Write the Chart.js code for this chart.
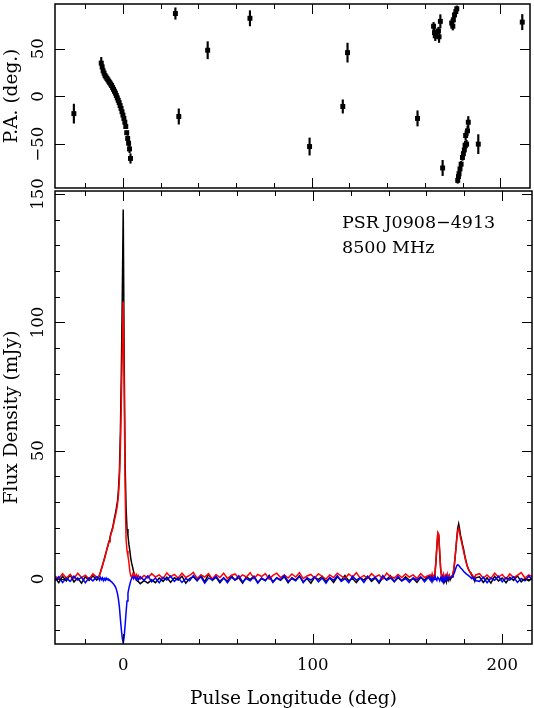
<!DOCTYPE html>
<html>
<head>
<meta charset="utf-8">
<script src="https://cdn.jsdelivr.net/npm/chart.js@4.4.1/dist/chart.umd.min.js"></script>
<style>
  html, body { margin: 0; padding: 0; background: #fff; }
  #wrap { position: relative; width: 534px; height: 708px; }
  #wrap canvas { position: absolute; left: 0; }
  #pa-chart { top: 0; }
  #flux-chart { top: 171px; }
</style>
</head>
<body>
<div id="wrap">
  <canvas id="pa-chart" width="534" height="192"></canvas>
  <canvas id="flux-chart" width="534" height="537"></canvas>
</div>
<script>
// pulse longitude of each profile bin (deg)
const lon = [
  -36, -34, -32, -30, -28, -26, -24, -22, -20, -18, -16, -14,
  -13, -12.5, -12, -11.5, -11, -10.5, -10, -9.5, -9, -8.5, -8, -7.5, -7, -6.5, -6, -5.5, -5, -4.5, -4, -3.5, -3, -2.5, -2, -1.5, -1, -0.5,
  0, 0.5, 1, 1.5, 2, 2.5, 3, 3.5, 4, 4.5, 5, 5.5, 6, 6.5, 7, 7.5, 8,
  9, 11, 13, 15, 17, 19, 21, 23, 25, 27, 29, 31, 33, 35, 37, 39, 41, 43, 45, 47,
  49, 51, 53, 55, 57, 59, 61, 63, 65, 67, 69, 71, 73, 75, 77, 79, 81, 83, 85, 87,
  89, 91, 93, 95, 97, 99, 101, 103, 105, 107, 109, 111, 113, 115, 117, 119, 121, 123, 125, 127,
  129, 131, 133, 135, 137, 139, 141, 143, 145, 147, 149, 151, 153, 155, 157, 159, 161,
  162, 162.5, 163, 163.5, 164, 164.5, 165, 165.5, 166, 166.5, 167, 167.5, 168, 168.5, 169, 169.5, 170, 170.5, 171, 171.5,
  172, 172.5, 173, 173.5, 174, 174.5, 175, 175.5, 176, 176.5, 177, 177.5, 178, 178.5, 179, 179.5, 180, 180.5, 181, 181.5,
  182, 182.5, 183, 183.5, 184, 184.5, 185, 185.5, 186,
  188, 190, 192, 194, 196, 198, 200, 202, 204, 206, 208, 210, 212, 214, 216
];

// total intensity (mJy)
const totalI = [
  0.5, -1.4, 1.1, -0.7, 1.6, -1.1, 0.4, -1.6, 0.9, -0.5, 1.3, -0.4,
  0.6, 1.5, 2.8, 4.0, 5.3, 6.5, 7.8, 9.2, 10.6, 12.0, 13.3, 14.8, 16.3, 17.7, 19.0, 20.3, 22.3, 24.3, 26.0, 28.2, 30.5, 35.0, 42.0, 57.0, 80.0, 110.0,
  144.0, 86.0, 45.0, 28.0, 19.5, 17.0, 13.5, 11.0, 8.0, 6.0, 4.5, 2.8, 1.5, 0.5, -0.3, -0.8, -1.0,
  -1.8, -0.6, -1.6, -0.3, -1.4, 0.4, -0.9, 0.7, -1.3, 0.5, -0.4, 1.1, -1.6, 0.2, 0.9, -0.7, 1.4, -1.1, 1.8, -0.5,
  0.7, -1.4, 0.4, -0.9, 1.3, -0.4, 0.5, -1.6, 0.9, -0.2, 1.1, -1.3, 0.2, -0.7, 1.4, -1.1, 0.4, -0.5, 0.9, -1.4,
  0.5, -0.4, 1.3, -1.1, 0.2, -1.6, 0.7, -0.2, 1.1, -0.9, 0.4, -1.3, 0.9, -0.5, 1.4, -0.7, 0.2, -1.4, 0.5, -0.4,
  1.1, -0.9, 0.4, -1.6, 0.7, -0.2, 1.3, -1.1, 0.5, -0.7, 0.9, -0.5, 0.2, -1.3, 0.7, -0.4, 1.1,
  0.7, -0.6, 1.0, -0.4, 0.8, 2.0, 6.5, 12.5, 17.5, 17.0, 10.0, 4.0, 1.0, -0.6, 0.8, -0.9, 0.5, -1.1, 0.9, -0.4,
  1.1, -0.4, 0.4, 0.9, 1.8, 4.0, 7.5, 11.5, 16.0, 19.8, 21.5, 19.5, 17.0, 15.5, 13.5, 12.0, 10.0, 8.2, 6.6, 5.3,
  4.2, 3.4, 2.7, 2.0, 1.5, 0.9, 0.4, -0.8, 0.5,
  0.9, -1.3, 0.5, -1.6, 1.1, -0.7, 0.4, -1.4, 0.7, -0.5, 1.3, -1.1, 0.2, -0.7, 0.5
];

// linear polarisation (mJy)
const linearL = [
  1.2, 0.1, 2.1, 0.4, 1.8, 0.2, 2.3, 0.6, 1.5, 0.0, 2.0, 0.8,
  1.0, 1.6, 2.6, 3.8, 5.0, 6.3, 7.6, 9.0, 10.4, 11.8, 13.1, 14.5, 16.0, 17.3, 18.6, 19.8, 21.6, 23.4, 25.0, 27.0, 29.3, 33.0, 39.0, 51.0, 69.0, 89.0,
  108.0, 74.0, 36.0, 15.5, 11.0, 9.0, 6.5, 3.0, 1.2, 0.7, 1.8, 0.4, 1.9, 0.3, 1.6, 0.6, 1.4,
  0.0, 1.4, 0.4, 2.1, 0.8, 1.6, 0.2, 2.4, 0.9, 1.8, 0.4, 2.3, 0.6, 1.4, 2.6, 0.2, 1.6, 0.8, 2.1, 0.0,
  1.8, 0.6, 2.3, 0.2, 1.4, 2.0, 0.4, 1.6, 0.8, 2.5, 0.2, 1.8, 1.0, 2.1, 0.0, 1.4, 2.3, 0.6, 1.6, 0.4,
  2.0, 0.8, 2.5, 0.2, 1.2, 1.8, 0.4, 2.1, 1.0, 0.0, 1.6, 0.6, 2.3, 1.2, 0.2, 2.0, 0.8, 2.5, 0.4, 1.4,
  0.2, 2.1, 0.8, 1.6, 0.0, 2.3, 1.0, 0.4, 1.8, 0.6, 2.0, 0.8, 1.6, 0.2, 2.1, 0.6, 1.4,
  1.6, 0.3, 2.0, 0.5, 1.6, 2.5, 7.0, 13.0, 18.2, 17.5, 10.5, 4.0, 1.3, 0.4, 1.9, 0.2, 1.4, 0.3, 2.0, 0.5,
  1.5, 0.6, 1.0, 1.4, 2.2, 4.2, 7.5, 11.5, 15.5, 18.8, 19.8, 18.0, 16.0, 14.5, 12.8, 11.2, 9.5, 7.8, 6.3, 5.0,
  4.0, 3.3, 2.7, 2.2, 1.8, 1.3, 1.0, 0.5, 1.6,
  2.1, 0.4, 1.6, 0.2, 2.3, 0.8, 1.8, 0.0, 2.0, 0.6, 1.4, 2.5, 0.4, 1.6, 0.8
];

// circular polarisation (mJy)
const circularV = [
  -0.5, 0.9, -1.3, 0.4, -0.9, 1.1, -0.4, 0.7, -1.4, 0.5, -0.7, 0.9,
  0.3, -0.4, 0.6, -0.2, 0.5, -0.6, 0.2, -0.5, 0.4, -0.3, 0.1, -0.6, -0.5, -0.9, -1.2, -1.6, -2.0, -2.6, -3.2, -4.3, -5.8, -8.0, -11.0, -15.5, -19.5, -23.0,
  -25.0, -22.5, -18.0, -13.0, -8.5, -5.5, -3.5, -2.0, -0.6, 0.4, 0.8, 0.2, 0.9, 0.3, -0.2, 0.6, -0.3,
  0.9, -0.5, 1.3, -1.1, 0.4, -1.4, 0.7, -0.4, 1.1, -0.9, 0.5, -1.3, 0.2, -0.7, 1.4, -0.5, 0.9, -1.6, 0.4, -0.2,
  1.1, -0.9, 0.5, -1.4, 0.7, -0.4, 1.3, -1.1, 0.2, -0.7, 0.9, -1.6, 0.4, -0.5, 1.1, -1.3, 0.5, -0.2, 1.4, -0.9,
  0.2, -0.7, 1.1, -1.4, 0.5, -0.4, 0.9, -1.1, 0.4, -1.6, 0.7, -0.5, 1.3, -0.9, 0.2, -1.4, 1.1, -0.4, 0.5, -1.3,
  0.9, -0.2, 0.7, -1.1, 1.4, -0.5, 0.4, -0.9, 1.1, -0.7, 0.2, -1.3, 0.5, -0.4, 0.9, -1.1, 0.7,
  -0.4, 0.7, -0.9, 0.5, -0.2, 0.9, 0.3, -0.5, 0.7, 0.2, -0.7, 0.5, -0.4, 0.9, -1.1, 0.4, -0.5, 1.1, -0.2, 0.7,
  0.3, 0.6, 0.5, 0.9, 1.3, 2.0, 3.0, 4.2, 5.2, 5.6, 5.4, 4.9, 4.4, 4.0, 3.6, 3.1, 2.7, 2.4, 2.0, 1.7,
  1.5, 1.1, 0.9, 0.5, 0.2, 0.6, -0.2, 0.3, -0.6,
  -0.9, 0.7, -1.4, 0.4, -0.5, 1.1, -1.1, 0.5, -0.4, 0.9, -1.3, 0.2, -0.7, 1.1, -0.4
];

// position angle of linear polarisation (deg) with 1-sigma errors
const paLon = [
  -26, -11.5, -11, -10.5, -10, -9.5, -9, -8.5, -8, -7.5, -7, -6.5, -6, -5.5, -5, -4.5, -4, -3.5, -3, -2.5,
  -2, -1.5, -1, -0.5, 0, 0.5, 1, 1.5, 2, 2.5, 3, 3.5, 4,
  27.8, 29.6, 44.9, 67.3, 98.9, 116.5, 119, 156.1,
  164.6, 165.1, 165.5, 166.3, 167.2, 167.5, 168.2, 169.4,
  174.2, 174.8, 175.1, 175.7, 176.4, 176.9,
  177.4, 177.8, 178.1, 178.6, 179.2, 179.9, 180.4, 180.9, 181.3, 181.6, 182.1, 182.6, 183,
  188.3, 211.6
];
const paDeg = [
  -18, 35, 31, 27, 24.5, 22, 20.5, 19, 17.5, 16, 14.5, 13, 11.5, 9.5, 7.5, 5.5, 3.5, 1, -1.5, -4,
  -6.5, -9.5, -12.5, -16, -19.5, -23, -27, -31.5, -38, -44, -49, -55, -65,
  87, -21, 48.5, 82, -52.5, -10.5, 46, -23,
  73.7, 67, 63.6, 65, 68.7, 62.6, 78.8, -75,
  77, 73.7, 80.4, 85.5, 89, 92,
  -88, -84, -81, -76, -71, -64, -60, -56, -51, -41, -50, -36, -27,
  -50, 78
];
const paErr = [
  10, 6, 4, 3, 2, 2, 2, 2, 2, 2, 2, 2, 2, 2, 2, 2, 2, 2, 2, 2,
  2, 2, 2, 2, 2, 2, 2, 2, 2, 3, 3, 4, 5,
  6, 8, 9, 8, 9, 7, 10, 8,
  4, 5, 5, 4, 4, 6, 7, 8,
  4, 4, 3, 3, 3, 3,
  3, 3, 3, 3, 3, 3, 3, 3, 4, 5, 4, 5, 6,
  10, 8
];

const lonTicks = [0, 100, 200];
const lonMinorTicks = [-20, 20, 40, 60, 80, 120, 140, 160, 180];
const fluxTicks = [0, 50, 100, 150];
const fluxMinorTicks = [-20, -10, 10, 20, 30, 40, 60, 70, 80, 90, 110, 120, 130, 140];
const paTicks = [-50, 0, 50];

const serif = '"DejaVu Serif", "Liberation Serif", serif';
const fmt = v => (v < 0 ? '\u2212' + Math.abs(v) : String(v));

// PGPLOT style box: frame, inward ticks on all four sides, rotated y labels
const pgBox = {
  id: 'pgBox',
  afterDraw(chart, args, o) {
    const {ctx, chartArea: a} = chart;
    const xs = chart.scales.x, ys = chart.scales.y;
    ctx.save();
    ctx.strokeStyle = '#000';
    ctx.fillStyle = '#000';
    ctx.lineWidth = 1;
    ctx.beginPath();
    const xTick = (v, len) => {
      const p = Math.round(xs.getPixelForValue(v)) + 0.5;
      ctx.moveTo(p, a.bottom); ctx.lineTo(p, a.bottom - len);
      ctx.moveTo(p, a.top); ctx.lineTo(p, a.top + len);
    };
    const yTick = (v, len) => {
      const p = Math.round(ys.getPixelForValue(v)) + 0.5;
      ctx.moveTo(a.left, p); ctx.lineTo(a.left + len, p);
      ctx.moveTo(a.right, p); ctx.lineTo(a.right - len, p);
    };
    lonTicks.forEach(v => xTick(v, 10));
    lonMinorTicks.forEach(v => xTick(v, 5));
    o.yMajor.forEach(v => yTick(v, 10));
    (o.yMinor || []).forEach(v => yTick(v, 5));
    ctx.stroke();
    ctx.lineWidth = 1.5;
    ctx.strokeRect(a.left, a.top, a.right - a.left, a.bottom - a.top);

    ctx.textAlign = 'center';
    ctx.textBaseline = 'alphabetic';
    ctx.font = '16.5px ' + serif;
    if (o.xLabels) {
      lonTicks.forEach(v => ctx.fillText(fmt(v), xs.getPixelForValue(v), a.bottom + 26));
    }
    o.yMajor.forEach(v => {
      ctx.save();
      ctx.translate(43, ys.getPixelForValue(v));
      ctx.rotate(-Math.PI / 2);
      ctx.fillText(fmt(v), 0, 0);
      ctx.restore();
    });
    ctx.font = '18.5px ' + serif;
    ctx.save();
    ctx.translate(16.5, (a.top + a.bottom) / 2);
    ctx.rotate(-Math.PI / 2);
    ctx.fillText(o.yTitle, 0, 0);
    ctx.restore();
    if (o.xTitle) ctx.fillText(o.xTitle, (a.left + a.right) / 2, a.bottom + 60);
    if (o.notes) {
      ctx.font = '17.5px ' + serif;
      ctx.textAlign = 'left';
      o.notes.forEach((t, i) => ctx.fillText(t, a.left + 287, a.top + 37 + i * 25));
    }
    ctx.restore();
  }
};

const lonRange = {min: -36, max: 215.7};

new Chart(document.getElementById('pa-chart'), {
  type: 'scatter',
  data: {
    datasets: [
      {
        type: 'bar',
        label: 'PA error',
        data: paLon.map((x, i) => ({x: x, y: [paDeg[i] - paErr[i], paDeg[i] + paErr[i]]})),
        backgroundColor: '#000',
        borderWidth: 0,
        barThickness: 1.5,
        grouped: false,
        order: 2
      },
      {
        label: 'PA',
        data: paLon.map((x, i) => ({x: x, y: paDeg[i]})),
        pointStyle: 'rect',
        pointRadius: 3.5,
        pointBorderWidth: 0,
        backgroundColor: '#000',
        borderColor: '#000',
        order: 1
      }
    ]
  },
  options: {
    responsive: false,
    animation: false,
    devicePixelRatio: 1,
    layout: {padding: {left: 55, right: 2, top: 1, bottom: 1}},
    scales: {
      x: {type: 'linear', display: false, offset: false, min: lonRange.min, max: lonRange.max},
      y: {display: false, min: -96, max: 97}
    },
    plugins: {
      legend: {display: false},
      tooltip: {enabled: false},
      pgBox: {yMajor: paTicks, yTitle: 'P.A. (deg.)', xLabels: false}
    }
  },
  plugins: [pgBox]
});

const profile = (vals, color, order) => ({
  data: lon.map((x, i) => ({x: x, y: vals[i]})),
  showLine: true,
  borderColor: color,
  borderWidth: 1.5,
  pointRadius: 0,
  tension: 0,
  order: order
});

new Chart(document.getElementById('flux-chart'), {
  type: 'scatter',
  data: {
    datasets: [
      profile(totalI, '#000000', 3),
      profile(linearL, '#ff0000', 2),
      profile(circularV, '#0000ff', 1)
    ]
  },
  options: {
    responsive: false,
    animation: false,
    devicePixelRatio: 1,
    layout: {padding: {left: 55, right: 2, top: 20, bottom: 64}},
    scales: {
      x: {type: 'linear', display: false, offset: false, min: lonRange.min, max: lonRange.max},
      y: {display: false, min: -25.3, max: 151.2}
    },
    plugins: {
      legend: {display: false},
      tooltip: {enabled: false},
      pgBox: {
        yMajor: fluxTicks,
        yMinor: fluxMinorTicks,
        yTitle: 'Flux Density (mJy)',
        xLabels: true,
        xTitle: 'Pulse Longitude (deg)',
        notes: ['PSR J0908\u22124913', '8500 MHz']
      }
    }
  },
  plugins: [pgBox]
});
</script>
</body>
</html>
